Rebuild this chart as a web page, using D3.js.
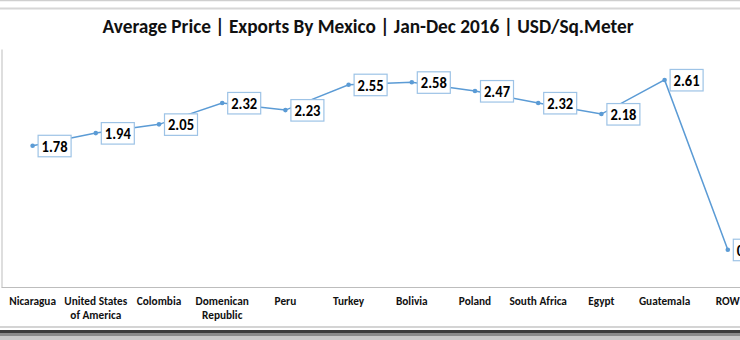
<!DOCTYPE html>
<html>
<head>
<meta charset="utf-8">
<script src="https://cdn.jsdelivr.net/npm/d3@7"></script>
<style>
html,body{margin:0;padding:0;background:#fff;overflow:hidden;}
svg{display:block;}
</style>
</head>
<body>
<svg id="chart" width="740" height="340"></svg>
<script>
const titleText = "Average Price | Exports By Mexico | Jan-Dec 2016 | USD/Sq.Meter";
const categories = ["Nicaragua","United States\nof America","Colombia","Domenican\nRepublic","Peru","Turkey","Bolivia","Poland","South Africa","Egypt","Guatemala","ROW"];
const values = [1.78,1.94,2.05,2.32,2.23,2.55,2.58,2.47,2.32,2.18,2.61,0.47];
const valueLabels = ["1.78","1.94","2.05","2.32","2.23","2.55","2.58","2.47","2.32","2.18","2.61","0.47"];
const yDomain = [0,3];

const FONT = "Carlito, Calibri, Lato, sans-serif";
const svg = d3.select("#chart");

// frame decorations
svg.append("line").attr("x1",0).attr("x2",740).attr("y1",0.5).attr("y2",0.5).attr("stroke","#cfcfcf").attr("stroke-width",1.5);
svg.append("line").attr("x1",0).attr("x2",740).attr("y1",8.5).attr("y2",8.5).attr("stroke","#d6d6d6").attr("stroke-width",2);
svg.append("line").attr("x1",0).attr("x2",740).attr("y1",327).attr("y2",327).attr("stroke","#d4d4d4").attr("stroke-width",2);
svg.append("rect").attr("x",0).attr("y",330).attr("width",740).attr("height",3).attr("fill","#3c3c3c");
svg.append("rect").attr("x",0).attr("y",333).attr("width",740).attr("height",3).attr("fill","#8a8a8a");
svg.append("rect").attr("x",0).attr("y",336).attr("width",740).attr("height",4).attr("fill","#c8c8c8");

// title
svg.append("text").attr("x",368).attr("y",33).attr("text-anchor","middle")
  .attr("font-family",FONT).attr("font-size",20).attr("font-weight",600).attr("fill","#111")
  .attr("textLength",531).attr("lengthAdjust","spacingAndGlyphs")
  .text(titleText);

const plotLeft = 1, plotTop = 49, plotBottom = 287, step = 63.2;
const x = d3.scaleBand().domain(categories).range([plotLeft, plotLeft + step*categories.length]).padding(0);
const y = d3.scaleLinear().domain(yDomain).range([plotBottom, plotTop]);
const cx = c => x(c) + x.bandwidth()/2;

// axes
const xAxis = svg.append("g").attr("transform",`translate(0,${plotBottom})`)
  .call(d3.axisBottom(x).tickSize(0).tickFormat(""));
xAxis.select(".domain").attr("stroke","#bdbdbd").attr("stroke-width",1);
const yAxis = svg.append("g").attr("transform",`translate(${plotLeft+0.5},0)`)
  .call(d3.axisLeft(y).ticks(0).tickSize(0).tickFormat(""));
yAxis.select(".domain").attr("stroke","#bdbdbd").attr("stroke-width",1);

// category labels
const catG = svg.append("g");
categories.forEach(c => {
  const lines = c.split("\n");
  const t = catG.append("text").attr("text-anchor","middle")
    .attr("font-family",FONT).attr("font-weight","bold").attr("font-size",11.3).attr("fill","#111");
  lines.forEach((ln,i) => {
    t.append("tspan").attr("x",cx(c)).attr("y",305 + i*14).text(ln);
  });
});

// line
const pts = categories.map((c,i)=>({c, v:values[i], lbl:valueLabels[i]}));
svg.append("path").datum(pts)
  .attr("fill","none").attr("stroke","#5b9bd5").attr("stroke-width",1.5)
  .attr("d", d3.line().x(d=>cx(d.c)).y(d=>y(d.v)));
svg.selectAll("circle.mk").data(pts).enter().append("circle").attr("class","mk")
  .attr("cx",d=>cx(d.c)).attr("cy",d=>y(d.v)).attr("r",2.3).attr("fill","#5b9bd5");

// data labels
const lg = svg.append("g");
pts.forEach(d => {
  const px = cx(d.c), py = y(d.v);
  const g = lg.append("g");
  const rect = g.append("rect");
  const t = g.append("text").attr("font-family",FONT).attr("font-weight","bold")
    .attr("font-size",16.5).attr("fill","#000").text(d.lbl);
  const w = 26;
  t.attr("textLength",w).attr("lengthAdjust","spacingAndGlyphs")
    .attr("x",px+9).attr("y",py+6);
  rect.attr("x",px+5.5).attr("y",py-10.5).attr("width",w+7).attr("height",21.5)
    .attr("fill","#fff").attr("stroke","#9dc3e6").attr("stroke-width",1.2);
});
</script>
</body>
</html>
